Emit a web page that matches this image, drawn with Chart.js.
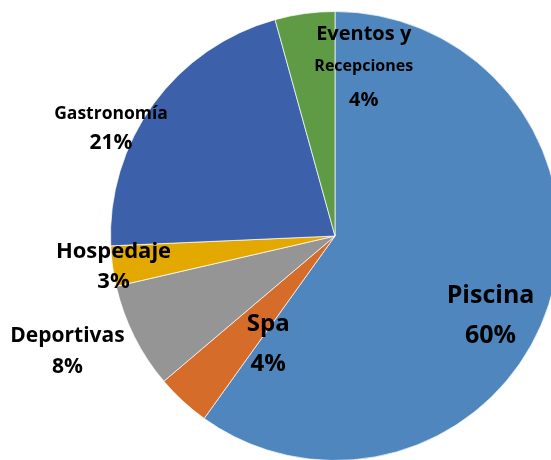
<!DOCTYPE html>
<html>
<head>
<meta charset="utf-8">
<script src="https://cdn.jsdelivr.net/npm/chart.js@4.4.1/dist/chart.umd.min.js"></script>
<style>
  html, body { margin: 0; padding: 0; background: #fff; overflow: hidden; }
  #wrap { width: 551px; height: 460px; overflow: hidden; position: relative; }
  canvas { position: absolute; left: 0; top: 0; }
</style>
</head>
<body>
<div id="wrap"><canvas id="myChart" width="600" height="480"></canvas></div>
<script>
// data ---------------------------------------------
const categories = ["Piscina", "Spa", "Deportivas", "Hospedaje", "Gastronomía", "Eventos y Recepciones"];
const nameLines = [["Piscina"], ["Spa"], ["Deportivas"], ["Hospedaje"], ["Gastronomía"], ["Eventos y", "Recepciones"]];
const shares = [59.9, 3.9, 7.6, 2.9, 21.4, 4.3];
const sliceColors = ["#4e86bd", "#d56c2a", "#959595", "#e3a900", "#3c61aa", "#5f9b45"];

// label layout: radius factor, angle shift (deg), font sizes per line, line gap
const labelLayout = [
  { k: 0.775, da: 8.8, sizes: [25, 25], gap: 40 },
  { k: 0.56, da: -10.6, sizes: [24, 24], gap: 39.5 },
  { k: 1.295, da: 3.6, sizes: [21, 21], gap: 31 },
  { k: 0.995, da: 0.3, sizes: [22, 22], gap: 30 },
  { k: 1.11, da: -10, sizes: [17.5, 21], gap: 29 },
  { k: 0.77, da: 17.3, sizes: [20, 16, 20], gap: 33 },
];

const labelPlugin = {
  id: "sliceLabels",
  afterDatasetsDraw(chart) {
    const ctx = chart.ctx;
    const meta = chart.getDatasetMeta(0);
    const total = shares.reduce((a, b) => a + b, 0);
    meta.data.forEach((arc, i) => {
      const p = arc.getProps(["x", "y", "startAngle", "endAngle", "outerRadius"], true);
      const lay = labelLayout[i];
      const mid = (p.startAngle + p.endAngle) / 2 + lay.da * Math.PI / 180;
      const r = p.outerRadius * lay.k;
      const cx = p.x + Math.cos(mid) * r;
      const cy = p.y + Math.sin(mid) * r;
      const lines = nameLines[i].concat([Math.round(shares[i] / total * 100) + "%"]);
      const n = lines.length;
      ctx.save();
      ctx.fillStyle = "#000";
      ctx.textAlign = "center";
      ctx.textBaseline = "alphabetic";
      lines.forEach((t, j) => {
        const size = lay.sizes[j];
        const midY = cy + (j - (n - 1) / 2) * lay.gap;
        ctx.font = "bold " + size + "px 'Open Sans'";
        ctx.fillText(t, cx, midY + size * 0.357);
      });
      ctx.restore();
    });
  },
};

const ctx = document.getElementById("myChart").getContext("2d");
const myChart = new Chart(ctx, {
  type: "pie",
  data: {
    labels: categories,
    datasets: [
      {
        data: shares,
        backgroundColor: sliceColors,
        borderColor: "rgba(255,255,255,0.7)",
        borderWidth: 1,
      },
    ],
  },
  options: {
    responsive: false,
    animation: false,
    layout: { padding: { left: 110, top: 11, right: 40, bottom: 19 } },
    plugins: {
      legend: { display: false },
      tooltip: { enabled: false },
    },
  },
  plugins: [labelPlugin],
});
</script>
</body>
</html>
